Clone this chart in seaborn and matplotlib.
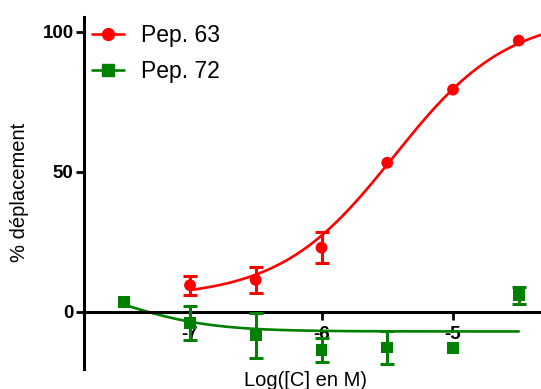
import numpy as np
import pandas as pd
import seaborn as sns
import matplotlib.pyplot as plt
from matplotlib.lines import Line2D

# Measured points (log concentration, mean, error)
log_c_63 = [-7.0, -6.5, -6.0, -5.5, -5.0, -4.5]
mean_63 = [9.5, 11.4, 22.9, 53.2, 79.3, 96.8]
err_63 = [3.4, 4.6, 5.5, 0.0, 0.0, 0.0]

log_c_72 = [-7.5, -7.0, -6.5, -6.0, -5.5, -5.0, -4.5]
mean_72 = [3.6, -3.9, -8.4, -13.6, -12.7, -12.9, 5.9]
err_72 = [0.0, 6.1, 8.0, 4.3, 5.9, 0.0, 3.0]

# Sigmoid fit parameters (bottom, top, logEC50, hill)
fit_63 = (5.0, 106.0, -5.45, 1.0)
fit_72 = (-7.0, 12.0, -7.5, -1.3)
fit_range_63 = (-7.0, -4.3)
fit_range_72 = (-7.5, -4.5)

x_ticks = [-7, -6, -5]
x_tick_labels = ["-7", "-6", "-5"]
y_ticks = [0, 50, 100]

red = "#ff0000"
green = "#008000"


def sigmoid(x, bottom, top, logec50, hill):
    return bottom + (top - bottom) / (1 + 10 ** ((logec50 - x) * hill))


sns.set_style("ticks")
plt.rcParams["font.family"] = ["Liberation Sans", "DejaVu Sans"]
plt.rcParams.update({"text.color": "black", "axes.labelcolor": "black",
                     "xtick.color": "black", "ytick.color": "black",
                     "axes.edgecolor": "black"})

fig = plt.figure(figsize=(5.41, 3.89), dpi=100)
ax = fig.add_axes([84 / 541, 1 - 369 / 389, 1 - 84 / 541, (369 - 16.5) / 389])

for lc, mean, err, fit, rng, col, mk in [
    (log_c_63, mean_63, err_63, fit_63, fit_range_63, red, "o"),
    (log_c_72, mean_72, err_72, fit_72, fit_range_72, green, "s"),
]:
    xs = np.linspace(rng[0], rng[1], 200)
    curve = pd.DataFrame({"x": xs, "y": sigmoid(xs, *fit)})
    sns.lineplot(data=curve, x="x", y="y", color=col, lw=1.9, ax=ax)
    # only draw bars that stick out of the marker
    e_x = [x for x, e in zip(lc, err) if e > 0]
    e_y = [m for m, e in zip(mean, err) if e > 0]
    e_v = [e for e in err if e > 0]
    ax.errorbar(e_x, e_y, yerr=e_v, fmt="none", ecolor=col, elinewidth=2.2,
                capsize=5.2, capthick=2.2, zorder=3)
    pts = pd.DataFrame({"x": lc, "y": mean})
    sns.scatterplot(data=pts, x="x", y="y", color=col, marker=mk, s=72,
                    edgecolor="none", ax=ax, zorder=4)

ax.set_xlim(-7.806, -4.331)
ax.set_ylim(-20.4, 105.4)

ax.spines["right"].set_visible(False)
ax.spines["top"].set_visible(False)
ax.spines["bottom"].set_position(("data", 0))
ax.spines["left"].set_linewidth(2.2)
ax.spines["bottom"].set_linewidth(2.2)

ax.set_xticks(x_ticks)
ax.set_xticklabels(x_tick_labels, fontsize=13.5, fontweight="bold")
ax.set_yticks(y_ticks)
ax.set_yticklabels([str(v) for v in y_ticks], fontsize=13.5, fontweight="bold")
ax.tick_params(axis="x", length=6, width=2, pad=4.5, direction="out")
ax.tick_params(axis="y", length=5.5, width=2, pad=2)

ax.set_xlabel("")
ax.set_ylabel("")
fig.text(20 / 541, 1 - 192 / 389, "% déplacement", rotation=90, fontsize=14.5,
         ha="center", va="center")
fig.text(305 / 541, 1 - 381 / 389, "Log([C] en M)", fontsize=14.5,
         ha="center", va="center")

handles = [
    Line2D([], [], color=red, marker="o", lw=1.9, ms=8.5),
    Line2D([], [], color=green, marker="s", lw=1.9, ms=8),
]
ax.legend(handles, ["Pep. 63", "Pep. 72"], loc="upper left",
          bbox_to_anchor=(92 / 541, 1 - 24 / 389), bbox_transform=fig.transFigure,
          frameon=False, fontsize=16.5, handlelength=1.4, handletextpad=0.75,
          borderpad=0, borderaxespad=0, labelspacing=0.55)

fig.savefig("out.png", dpi=100)
